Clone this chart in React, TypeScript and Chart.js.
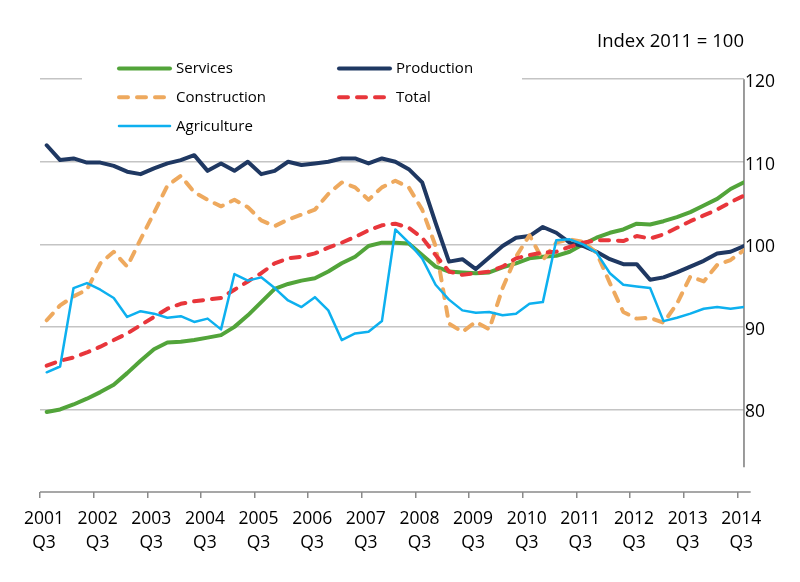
import React, { useEffect, useRef } from 'react';
import { Chart, registerables } from 'chart.js';

Chart.register(...registerables);

const FONT = "'Open Sans', sans-serif";

const quarters = [
  '2001 Q3', '2001 Q4',
  '2002 Q1', '2002 Q2', '2002 Q3', '2002 Q4',
  '2003 Q1', '2003 Q2', '2003 Q3', '2003 Q4',
  '2004 Q1', '2004 Q2', '2004 Q3', '2004 Q4',
  '2005 Q1', '2005 Q2', '2005 Q3', '2005 Q4',
  '2006 Q1', '2006 Q2', '2006 Q3', '2006 Q4',
  '2007 Q1', '2007 Q2', '2007 Q3', '2007 Q4',
  '2008 Q1', '2008 Q2', '2008 Q3', '2008 Q4',
  '2009 Q1', '2009 Q2', '2009 Q3', '2009 Q4',
  '2010 Q1', '2010 Q2', '2010 Q3', '2010 Q4',
  '2011 Q1', '2011 Q2', '2011 Q3', '2011 Q4',
  '2012 Q1', '2012 Q2', '2012 Q3', '2012 Q4',
  '2013 Q1', '2013 Q2', '2013 Q3', '2013 Q4',
  '2014 Q1', '2014 Q2', '2014 Q3',
];

const tickLabels = [
  ['2001', 'Q3'], ['2002', 'Q3'], ['2003', 'Q3'], ['2004', 'Q3'], ['2005', 'Q3'],
  ['2006', 'Q3'], ['2007', 'Q3'], ['2008', 'Q3'], ['2009', 'Q3'], ['2010', 'Q3'],
  ['2011', 'Q3'], ['2012', 'Q3'], ['2013', 'Q3'], ['2014', 'Q3'],
];

const yTicks = [80, 90, 100, 110, 120];
const yAxisLow = 73;

const services = [
  79.7, 80.0, 80.6, 81.3, 82.1, 83.0, 84.4, 85.9, 87.3, 88.1,
  88.2, 88.4, 88.7, 89.0, 90.0, 91.4, 93.0, 94.6, 95.2, 95.6,
  95.9, 96.7, 97.7, 98.5, 99.8, 100.2, 100.2, 100.1, 98.7, 97.3,
  96.7, 96.6, 96.5, 96.6, 97.2, 97.7, 98.3, 98.5, 98.6, 99.1,
  100.0, 100.8, 101.4, 101.8, 102.5, 102.4, 102.8, 103.3, 103.9, 104.7,
  105.5, 106.7, 107.5,
];

const production = [
  112.0, 110.2, 110.4, 109.9, 109.9, 109.5, 108.8, 108.5, 109.2, 109.8,
  110.2, 110.8, 108.9, 109.8, 108.9, 110.0, 108.5, 108.9, 110.0, 109.6,
  109.8, 110.0, 110.4, 110.4, 109.8, 110.4, 110.0, 109.1, 107.5, 102.6,
  97.9, 98.2, 97.0, 98.4, 99.8, 100.8, 101.0, 102.1, 101.4, 100.2,
  99.8, 99.1, 98.2, 97.6, 97.6, 95.7, 96.0, 96.6, 97.3, 98.0,
  98.9, 99.1, 99.8,
];

const construction = [
  90.8, 92.6, 93.7, 94.5, 97.7, 99.1, 97.3, 100.6, 103.8, 107.1,
  108.3, 106.3, 105.4, 104.6, 105.4, 104.5, 102.9, 102.2, 103.0, 103.6,
  104.2, 106.1, 107.5, 106.9, 105.4, 106.9, 107.7, 106.9, 104.2, 99.8,
  90.4, 89.4, 90.6, 89.7, 94.7, 98.5, 101.1, 98.1, 100.2, 100.6,
  100.3, 99.0, 95.3, 91.8, 91.0, 91.1, 90.5, 92.8, 96.1, 95.5,
  97.5, 98.1, 99.3,
];

const total = [
  85.3, 85.9, 86.3, 86.9, 87.6, 88.4, 89.2, 90.2, 91.2, 92.2,
  92.8, 93.1, 93.3, 93.5, 94.5, 95.5, 96.5, 97.7, 98.3, 98.5,
  98.9, 99.6, 100.2, 100.9, 101.7, 102.3, 102.5, 102.0, 100.8, 98.7,
  96.7, 96.3, 96.5, 96.7, 97.3, 98.3, 98.7, 99.0, 99.1, 99.7,
  100.2, 100.5, 100.5, 100.4, 101.0, 100.7, 101.2, 102.0, 102.8, 103.5,
  104.2, 105.1, 105.9,
];

const agriculture = [
  84.5, 85.2, 94.7, 95.3, 94.5, 93.5, 91.2, 91.9, 91.6, 91.1,
  91.3, 90.6, 91.0, 89.7, 96.4, 95.6, 96.0, 94.7, 93.2, 92.4,
  93.6, 92.0, 88.4, 89.2, 89.4, 90.7, 101.8, 100.2, 98.3, 95.1,
  93.3, 92.0, 91.7, 91.8, 91.4, 91.6, 92.8, 93.0, 100.5, 100.6,
  100.0, 99.0, 96.5, 95.1, 94.9, 94.7, 90.7, 91.1, 91.6, 92.2,
  92.4, 92.2, 92.4,
];

const seriesNames = ['Services', 'Production', 'Construction', 'Total', 'Agriculture'];
const seriesValues = [services, production, construction, total, agriculture];
const seriesStyles = [
  { color: '#52a43a', width: 4, dash: null, order: 5 },
  { color: '#1f3862', width: 4, dash: null, order: 4 },
  { color: '#eea95e', width: 4, dash: [9, 9], order: 3 },
  { color: '#e8363b', width: 4, dash: [9, 9], order: 2 },
  { color: '#0db0ef', width: 2.5, dash: null, order: 1 },
];

const axisLinesPlugin = {
  id: 'axisLines',
  beforeDatasetsDraw(chart: any) {
    const { ctx, chartArea, scales } = chart;
    const x = scales.x;
    const y = scales.y;
    ctx.save();
    ctx.strokeStyle = '#8a8a8a';
    ctx.lineWidth = 1.5;
    ctx.beginPath();
    ctx.moveTo(x.getPixelForValue(-0.5), chartArea.bottom);
    ctx.lineTo(x.getPixelForValue(quarters.length - 0.5), chartArea.bottom);
    ctx.stroke();
    const yx = x.getPixelForValue(quarters.length - 1);
    ctx.strokeStyle = '#7a7a7a';
    ctx.beginPath();
    ctx.moveTo(yx, y.getPixelForValue(yTicks[yTicks.length - 1]));
    ctx.lineTo(yx, y.getPixelForValue(yAxisLow));
    ctx.stroke();
    ctx.restore();
  },
};

const gridLegendPlugin = {
  id: 'gridLegend',
  afterDraw(chart: any) {
    const { ctx } = chart;
    ctx.save();
    ctx.fillStyle = '#ffffff';
    ctx.fillRect(82, 54, 440, 84);
    chart.data.datasets.forEach((ds: any, i: number) => {
      const col = i % 2;
      const row = Math.floor(i / 2);
      const x0 = 117 + col * 220;
      const yy = 68.5 + row * 28.8;
      ctx.strokeStyle = ds.borderColor;
      ctx.lineWidth = ds.borderWidth;
      ctx.lineCap = 'round';
      ctx.setLineDash(ds.borderDash || []);
      ctx.beginPath();
      ctx.moveTo(x0 + 2, yy);
      ctx.lineTo(x0 + 53, yy);
      ctx.stroke();
      ctx.setLineDash([]);
      ctx.fillStyle = '#000000';
      ctx.font = `15px ${FONT}`;
      ctx.textBaseline = 'middle';
      ctx.textAlign = 'left';
      ctx.fillText(ds.label, x0 + 59, yy + 0.5);
    });
    ctx.restore();
  },
};

export default function App() {
  const canvasRef = useRef<HTMLCanvasElement | null>(null);

  useEffect(() => {
    if (!canvasRef.current) return;
    const datasets = seriesNames.map((name, s) => ({
      label: name,
      data: seriesValues[s].map((v, i) => ({ x: i, y: v })),
      borderColor: seriesStyles[s].color,
      backgroundColor: seriesStyles[s].color,
      borderWidth: seriesStyles[s].width,
      borderDash: seriesStyles[s].dash || undefined,
      borderCapStyle: seriesStyles[s].dash ? 'round' : 'round',
      borderJoinStyle: 'round',
      pointRadius: 0,
      tension: 0,
      fill: false,
      order: seriesStyles[s].order,
    }));

    const chart = new Chart(canvasRef.current, {
      type: 'line',
      data: { datasets } as any,
      options: {
        responsive: false,
        animation: false,
        layout: { padding: { left: 40, right: 24, top: 0, bottom: 17 } },
        plugins: {
          legend: { display: false },
          tooltip: { enabled: false },
          title: {
            display: true,
            text: 'Index 2011 = 100',
            align: 'end',
            fullSize: false,
            color: '#000000',
            font: { family: FONT, size: 18.5, weight: 'normal', lineHeight: 1.2 },
            padding: { top: 31, bottom: 26 },
          },
        },
        scales: {
          x: {
            type: 'linear',
            min: -0.5,
            max: quarters.length - 1,
            afterBuildTicks: (scale: any) => {
              scale.ticks = tickLabels.map((_, k) => ({ value: k * 4 - 0.5 }));
            },
            ticks: {
              autoSkip: false,
              maxRotation: 0,
              minRotation: 0,
              padding: 9.5,
              labelOffset: 4,
              color: '#000000',
              font: { family: FONT, size: 17.5, lineHeight: 24 / 17.5 },
              callback: (_v: any, idx: number) => tickLabels[idx],
            },
            grid: {
              drawOnChartArea: false,
              drawTicks: true,
              tickLength: 6,
              color: '#8a8a8a',
              lineWidth: 1.5,
            },
            border: { display: false },
          },
          y: {
            type: 'linear',
            position: 'right',
            min: 70,
            max: 120,
            afterBuildTicks: (scale: any) => {
              scale.ticks = yTicks.map((v) => ({ value: v }));
            },
            ticks: {
              padding: 1,
              labelOffset: 3,
              color: '#000000',
              font: { family: FONT, size: 17.5 },
              callback: (v: any) => String(v),
            },
            grid: { color: '#c4c4c4', lineWidth: 1.5, drawTicks: false },
            border: { display: false },
          },
        },
      } as any,
      plugins: [axisLinesPlugin, gridLegendPlugin],
    });

    return () => chart.destroy();
  }, []);

  return (
    <div style={{ position: 'absolute', left: 0, top: 0, width: 800, height: 582, background: '#ffffff' }}>
      <canvas ref={canvasRef} width={800} height={582} style={{ display: 'block' }} />
    </div>
  );
}
